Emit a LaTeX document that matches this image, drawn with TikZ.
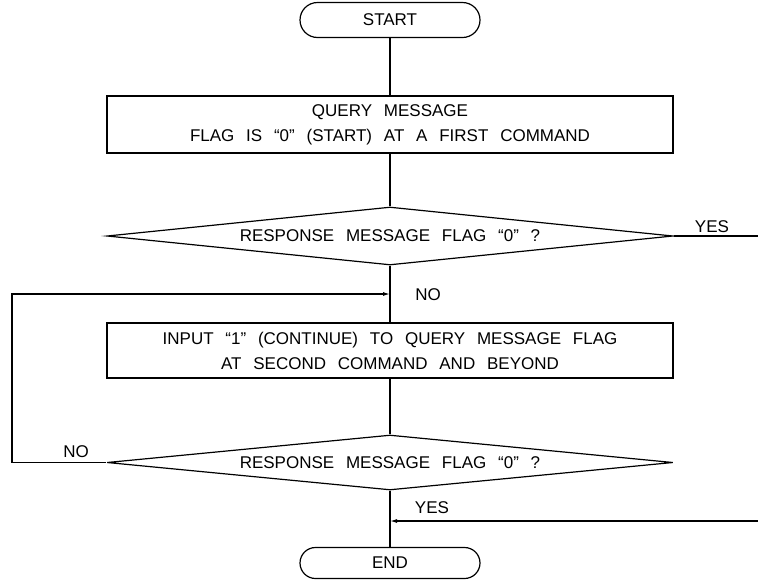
\documentclass[tikz,border=0pt]{standalone}
\usepackage{fontspec}
\setmainfont{Liberation Sans}[WordSpace=2.5]
\usetikzlibrary{shapes.geometric,arrows.meta}

\tikzset{
  terminal/.style={draw, rounded corners=#1, minimum width=180pt, minimum height=2*#1, inner sep=0pt},
  process/.style={draw, rectangle, minimum width=566pt, inner sep=0pt, align=center},
  decision/.style={draw, diamond, aspect=10, minimum width=566pt, inner sep=0pt},
  lbl/.style={inner sep=0pt}
}

\begin{document}
\begin{tikzpicture}[x=1pt, y=-1pt, line width=1.2pt, >={Latex[length=7pt,width=4pt]},
    font=\fontsize{17}{25}\selectfont]
  \useasboundingbox (0,0) rectangle (758,582);

  % start / end
  \node [terminal=17.5pt] (start) at (390,20) {START};
  \node [terminal=15.5pt] (end) at (390,563) {END};

  % processing boxes
  \node [process, minimum height=57pt] (query) at (390,124.5)
      {QUERY MESSAGE\\FLAG IS ``0'' (START) AT A FIRST COMMAND};
  \node [process, minimum height=55pt] (input) at (390,350.5)
      {INPUT ``1'' (CONTINUE) TO QUERY MESSAGE FLAG\\AT SECOND COMMAND AND BEYOND};

  % decisions
  \node [decision, minimum height=58pt] (check1) at (390,236) {RESPONSE MESSAGE FLAG ``0'' ?};
  \node [decision, minimum height=55pt] (check2) at (390,462.5) {RESPONSE MESSAGE FLAG ``0'' ?};

  % free ends of the branches
  \coordinate (yesout) at (758,236);
  \coordinate (looptop) at (12,294);
  \coordinate (merge) at (390,294);
  \coordinate (yesin) at (758,521);
  \coordinate (join) at (390,521);

  % labels
  \node [lbl] (yes1) at (712,227) {YES};
  \node [lbl] (no1) at (428,295) {NO};
  \node [lbl] (no2) at (76,452) {NO};
  \node [lbl] (yes2) at (432,508) {YES};

  % main flow
  \draw (start) -- (query);
  \draw (query) -- (check1);
  \draw (check1) -- (input);
  \draw (input) -- (check2);
  \draw (check2) -- (end);

  % branches
  \draw (check1.east) -- (yesout);
  \draw [->] (check2.west) -| (looptop) -- (merge);
  \draw [->] (yesin) -- (join);

\end{tikzpicture}
\end{document}
